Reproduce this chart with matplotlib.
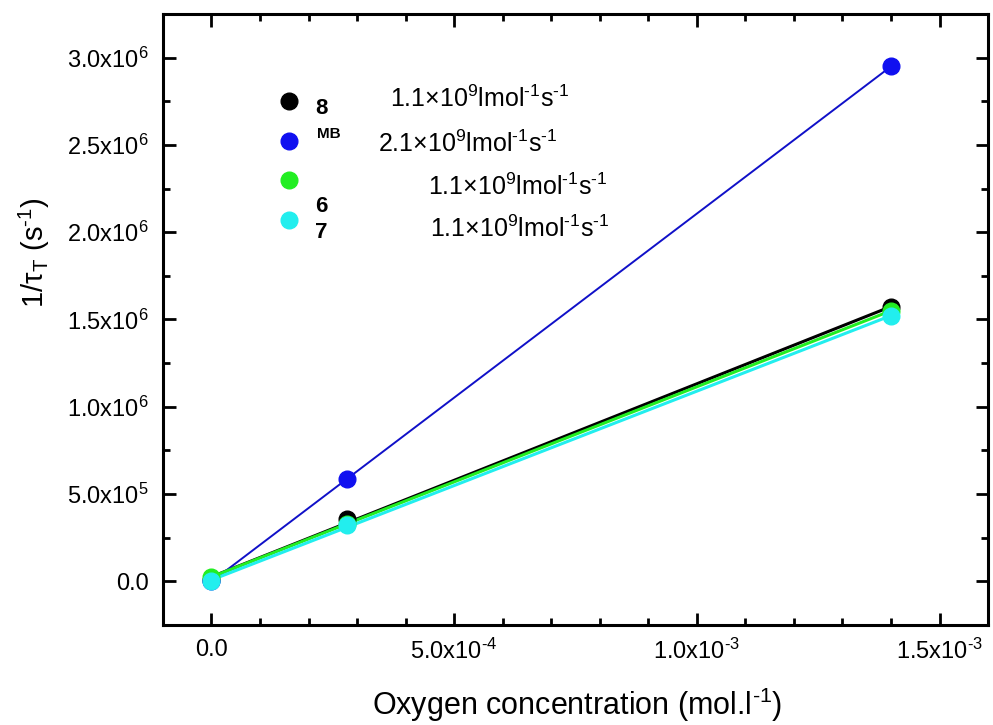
import numpy as np
import matplotlib
matplotlib.use("Agg")
import matplotlib.pyplot as plt
from matplotlib.ticker import MultipleLocator, FuncFormatter
from matplotlib.lines import Line2D

plt.rcParams['font.family'] = ['Liberation Sans', 'DejaVu Sans']
plt.rcParams['mathtext.default'] = 'regular'

# oxygen concentration (mol/l)
oxygen = np.array([0.0, 2.8e-4, 1.4e-3])

# 1/tau_T (s^-1) for each compound
rate_8 = np.array([1.0e4, 3.55e5, 1.57e6])
rate_mb = np.array([0.0, 5.86e5, 2.95e6])
rate_6 = np.array([2.5e4, 3.30e5, 1.55e6])
rate_7 = np.array([0.0, 3.20e5, 1.52e6])

names = ["8", "MB", "6", "7"]
kq_labels = [
    "1.1$\\times$10$^9$lmol$^{\u2010 1}$s$^{\u2010 1}$",
    "2.1$\\times$10$^9$lmol$^{\u2010 1}$s$^{\u2010 1}$",
    "1.1$\\times$10$^9$lmol$^{\u2010 1}$s$^{\u2010 1}$",
    "1.1$\\times$10$^9$lmol$^{\u2010 1}$s$^{\u2010 1}$",
]
colors = ["black", "#1010f0", "#22ee22", "#22eeee"]
line_colors = ["black", "#1010c8", "#22ee22", "#22eeee"]
line_widths = [2.2, 1.4, 2.2, 2.2]

fig = plt.figure(figsize=(9.93, 7.25), dpi=100)
ax = fig.add_axes([0.1641, 0.138, 0.8309, 0.8427])

series = [rate_8, rate_mb, rate_6, rate_7]
for y, c, lc, lw in zip(series, colors, line_colors, line_widths):
    k, b = np.polyfit(oxygen, y, 1)
    xf = np.array([oxygen.min(), oxygen.max()])
    ax.plot(xf, k * xf + b, color=lc, lw=lw, zorder=2)
for y, c in zip(series, colors):
    ax.plot(oxygen, y, 'o', color=c, ms=12, zorder=3)

ax.set_xlim(-1e-4, 1.6e-3)
ax.set_ylim(-2.5e5, 3.25e6)


def sci_fmt(v, pos):
    if abs(v) < 1e-12:
        return "0.0"
    e = int(np.floor(np.log10(abs(v))))
    m = v / 10 ** e
    es = str(e).replace("-", "\u2010")
    return f"{m:.1f}x10$^{{{es}}}$"


ax.xaxis.set_major_locator(MultipleLocator(5e-4))
ax.xaxis.set_minor_locator(MultipleLocator(1e-4))
ax.yaxis.set_major_locator(MultipleLocator(5e5))
ax.yaxis.set_minor_locator(MultipleLocator(2.5e5))
ax.xaxis.set_major_formatter(FuncFormatter(sci_fmt))
ax.yaxis.set_major_formatter(FuncFormatter(sci_fmt))
ax.tick_params(which='both', direction='in', top=True, right=True, width=2)
ax.tick_params(which='major', length=9, labelsize=17, pad=10)
ax.tick_params(which='minor', length=5)
for s in ax.spines.values():
    s.set_linewidth(2.2)

ax.set_xlabel("Oxygen concentration (mol.l$^{\u2010 1}$)", fontsize=22)
ax.xaxis.set_label_coords(0.502, -0.1)
ax.set_ylabel("1/$\\tau_T$ (s$^{\u2010 1}$)", fontsize=21)
ax.yaxis.set_label_coords(-0.135, 0.609)

# legend keys
handles = [Line2D([], [], marker='o', ls='none', color=c, ms=12) for c in colors]
ax.legend(handles, ["", "", "", ""], loc='upper left', bbox_to_anchor=(0.128, 0.885),
          frameon=False, handlelength=1.0, labelspacing=0.83, fontsize=16,
          borderaxespad=0, handletextpad=0)

name_pos = [(0.184, 0.836, 16), (0.187, 0.797, 11), (0.184, 0.676, 16), (0.184, 0.633, 16)]
for n, (x, y, fs) in zip(names, name_pos):
    ax.text(x, y, n, transform=ax.transAxes, fontsize=fs, fontweight='bold', va='baseline')

kq_pos = [(0.275, 0.848), (0.261, 0.774), (0.321, 0.704), (0.324, 0.635)]
for t, (x, y) in zip(kq_labels, kq_pos):
    ax.text(x, y, t, transform=ax.transAxes, fontsize=18, va='baseline')

fig.savefig("out.png", dpi=100)
